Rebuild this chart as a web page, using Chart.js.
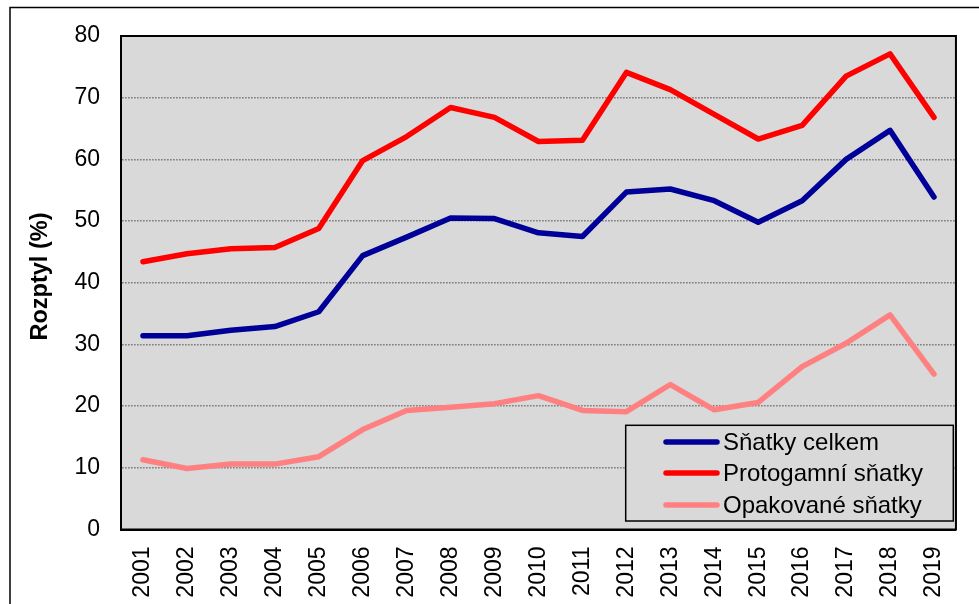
<!DOCTYPE html>
<html>
<head>
<meta charset="utf-8">
<script src="https://cdn.jsdelivr.net/npm/chart.js@4/dist/chart.umd.min.js"></script>
<style>
  html, body { margin: 0; padding: 0; background: #ffffff; }
  #wrap { width: 979px; height: 604px; position: relative; }
</style>
</head>
<body>
<div id="wrap"><canvas id="c" width="979" height="604"></canvas></div>
<script>
const years = ['2001','2002','2003','2004','2005','2006','2007','2008','2009','2010','2011','2012','2013','2014','2015','2016','2017','2018','2019'];
const snatkyCelkem = [31.4, 31.4, 32.3, 32.9, 35.3, 44.4, 47.4, 50.5, 50.4, 48.1, 47.5, 54.7, 55.2, 53.3, 49.8, 53.3, 60.0, 64.7, 53.9];
const protogamni  = [43.4, 44.7, 45.5, 45.7, 48.8, 59.8, 63.7, 68.4, 66.8, 62.9, 63.1, 74.1, 71.3, 67.3, 63.3, 65.5, 73.5, 77.1, 66.8];
const opakovane   = [11.3, 9.9, 10.6, 10.6, 11.8, 16.2, 19.3, 19.8, 20.4, 21.7, 19.3, 19.1, 23.5, 19.4, 20.6, 26.4, 30.2, 34.8, 25.2];
const seriesLabels = ['Sňatky celkem', 'Protogamní sňatky', 'Opakované sňatky'];
const yTitle = 'Rozptyl (%)';

const FONT = "'Liberation Sans', Arial, sans-serif";

const framePlugin = {
  id: 'frame',
  beforeDraw(chart) {
    const {ctx, chartArea: a} = chart;
    ctx.save();
    ctx.fillStyle = '#ffffff';
    ctx.fillRect(0, 0, chart.width, chart.height);
    ctx.strokeStyle = '#000000';
    ctx.lineWidth = 1.5;
    ctx.strokeRect(10, 7.5, 1100, 1100);
    ctx.fillStyle = '#d9d9d9';
    ctx.fillRect(a.left, a.top, a.right - a.left, a.bottom - a.top);
    ctx.restore();
  },
  afterDatasetsDraw(chart) {
    const {ctx, chartArea: a} = chart;
    ctx.save();
    ctx.strokeStyle = '#000000';
    ctx.lineWidth = 2;
    ctx.strokeRect(a.left, a.top, a.right - a.left, a.bottom - a.top);
    ctx.restore();
  },
  afterDraw(chart) {
    const {ctx} = chart;
    // y axis title
    ctx.save();
    ctx.translate(41, 276.5);
    ctx.rotate(-Math.PI / 2);
    ctx.font = 'bold 23.5px ' + FONT;
    ctx.fillStyle = '#000000';
    ctx.textAlign = 'center';
    ctx.textBaseline = 'middle';
    ctx.fillText(yTitle, 0, 0);
    ctx.restore();
    // legend
    const bx = 625.7, by = 425.3, bw = 327.6, bh = 95.7;
    ctx.save();
    ctx.fillStyle = '#d9d9d9';
    ctx.fillRect(bx, by, bw, bh);
    ctx.strokeStyle = '#000000';
    ctx.lineWidth = 1.5;
    ctx.strokeRect(bx, by, bw, bh);
    const rows = [442, 473, 505];
    chart.data.datasets.forEach((ds, i) => {
      const y = rows[i];
      ctx.strokeStyle = ds.borderColor;
      ctx.lineWidth = 5.5;
      ctx.lineCap = 'round';
      ctx.beginPath();
      ctx.moveTo(666, y);
      ctx.lineTo(717, y);
      ctx.stroke();
      ctx.fillStyle = '#000000';
      ctx.font = '24px ' + FONT;
      ctx.textAlign = 'left';
      ctx.textBaseline = 'middle';
      ctx.fillText(ds.label, 723, y + 1);
    });
    ctx.restore();
  }
};

const lineStyle = { borderWidth: 5.5, pointRadius: 0, pointHoverRadius: 0, tension: 0, fill: false, borderCapStyle: 'round', borderJoinStyle: 'round' };

new Chart(document.getElementById('c'), {
  type: 'line',
  data: {
    labels: years,
    datasets: [
      Object.assign({ label: seriesLabels[0], data: snatkyCelkem, borderColor: '#000099', backgroundColor: '#000099' }, lineStyle),
      Object.assign({ label: seriesLabels[1], data: protogamni, borderColor: '#ff0000', backgroundColor: '#ff0000' }, lineStyle),
      Object.assign({ label: seriesLabels[2], data: opakovane, borderColor: '#ff8080', backgroundColor: '#ff8080' }, lineStyle)
    ]
  },
  options: {
    responsive: false,
    animation: false,
    devicePixelRatio: 1,
    layout: { padding: { top: 36, right: 16, left: 0, bottom: 0 } },
    plugins: {
      legend: { display: false },
      title: { display: false },
      tooltip: { enabled: false }
    },
    scales: {
      x: {
        type: 'category',
        offset: true,
        grid: { display: false, drawTicks: false },
        border: { display: true, color: '#000000', width: 2 },
        ticks: {
          minRotation: 90, maxRotation: 90, autoSkip: false, padding: 17,
          color: '#000000', font: { family: FONT, size: 23 }
        },
        afterFit(scale) { scale.height = 74.5; }
      },
      y: {
        min: 0, max: 80,
        grid: { display: true, drawTicks: false, color: '#808080', lineWidth: 1.5 },
        border: { display: true, color: '#000000', width: 2, dash: [1.7, 1.3] },
        ticks: {
          stepSize: 10, padding: 21, color: '#000000',
          font: { family: FONT, size: 23 }
        },
        afterFit(scale) { scale.width = 121; }
      }
    }
  },
  plugins: [framePlugin]
});
</script>
</body>
</html>
